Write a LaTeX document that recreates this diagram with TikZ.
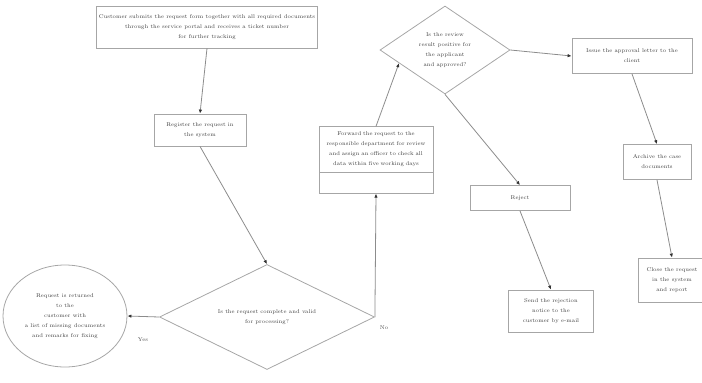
\documentclass[tikz,border=0pt]{standalone}
\usepackage{tikz}
\usetikzlibrary{shapes.geometric,shapes.multipart,arrows.meta}

\tikzset{
  box/.style={draw=black!35, line width=0.8pt, fill=white, align=center, inner sep=2pt},
  decision/.style={diamond, draw=black!35, line width=0.8pt, align=center, inner sep=0pt, aspect=1.6},
  link/.style={draw=black!45, line width=0.8pt, -{Latex[length=4pt,width=3.5pt,black!80]}},
  lbl/.style={text=black!70, inner sep=1pt}
}

\begin{document}
\begin{tikzpicture}[x=1pt, y=-1pt, font=\fontsize{5.5}{10}\selectfont, text=black!75]
\useasboundingbox (0,0) rectangle (702,383);

\node[box, minimum width=183pt, minimum height=42pt] (start) at (207,27)
  {Customer submits the request form together with all required documents\\
   through the service portal and receives a ticket number\\
   for further tracking};

\node[box, minimum width=92pt, minimum height=32pt] (reg) at (200,130)
  {Register the request in\\ the system};

\node[decision, minimum width=215pt, minimum height=105pt] (check) at (267,317)
  {Is the request complete and valid\\ for processing?};

\node[ellipse, draw=black!35, line width=0.8pt, align=center, minimum width=124pt, minimum height=102pt] (ret) at (65,316)
  {Request is returned\\ to the\\ customer with\\ a list of missing documents\\ and remarks for fixing};

\node[box, rectangle split, rectangle split parts=2, text width=110pt, inner ysep=5pt] (fwd) at (376,160)
  {Forward the request to the\\ responsible department for review\\ and assign an officer to check all\\ data within five working days
   \nodepart{two}\rule{0pt}{10pt}};

\node[decision, minimum width=130pt, minimum height=88pt] (review) at (445,50)
  {Is the review\\ result positive for\\ the applicant\\ and approved?};

\node[box, minimum width=120pt, minimum height=35pt] (issue) at (632,56)
  {Issue the approval letter to the\\ client};

\node[box, minimum width=68pt, minimum height=35pt] (arch) at (657,162)
  {Archive the case\\ documents};

\node[box, minimum width=68pt, minimum height=44pt] (close) at (672,280)
  {Close the request\\ in the system\\ and report};

\node[box, minimum width=100pt, minimum height=25pt] (rej) at (520,198)
  {Reject};

\node[box, minimum width=85pt, minimum height=42pt] (notice) at (551,311)
  {Send the rejection\\ notice to the\\ customer by e-mail};

\draw[link] (start.south) -- (reg.north);
\draw[link] (reg.south) -- (check.north);
\draw[link] (check.west) -- (ret.east);
\draw[link] (check.east) -- (fwd.south);
\draw[link] (fwd.north) -- (review.196);
\draw[link] (review.east) -- (issue.west);
\draw[link] (issue.south) -- (arch.north);
\draw[link] (arch.south) -- (close.north);
\draw[link] (review.south) -- (rej.north);
\draw[link] (rej.south) -- (notice.north);

\node[lbl] (lyes) at (143,340) {Yes};
\node[lbl] (lno) at (384,328) {No};

\end{tikzpicture}
\end{document}
